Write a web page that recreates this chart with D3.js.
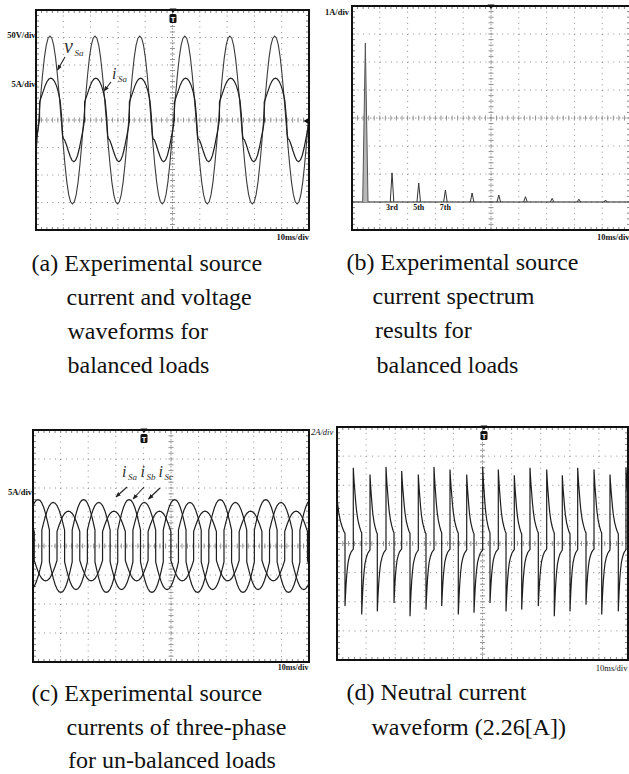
<!DOCTYPE html>
<html><head><meta charset="utf-8">
<script src="https://cdn.jsdelivr.net/npm/d3@7"></script>
<style>
html,body{margin:0;padding:0;background:#fff;}
svg{display:block;}
</style></head><body>
<svg id="chart" width="629" height="774"></svg>
<script>
// ================= DATA =================
// common: oscilloscope screen, 10 x-divisions (10 ms/div), 8 y-divisions
const timeDomainMs = [0, 100];
const divDomain = [-4, 4];
// one half-cycle lobe shape (fraction of lobe height) at these phase angles
const lobeDeg   = [0, 15, 30, 45, 60, 75, 90, 105, 120, 135, 150, 165, 180];
const lobeShape = [0, 0.28, 0.53, 0.74, 0.89, 0.975, 1, 0.975, 0.89, 0.74, 0.53, 0.28, 0];

// (a) source voltage v_Sa (50V/div) and current i_Sa (5A/div)
const periodA_ms = 16.47;
const vSaCycleStartsMs = [-15.5, 1.0, 17.5, 33.9, 50.4, 66.9, 83.3, 99.8];
const vSaPeakDiv = 3.05;
const iSaCycleStartsMs = [-15.2, 1.3, 17.8, 34.2, 50.7, 67.2, 83.6];
// one measured cycle of i_Sa (phase in degrees from the rising step, value in div)
const iSaCycleDeg = [0, 0, 15, 30, 45, 60, 75, 90, 105, 120, 135, 150, 165, 175, 180, 185, 190, 200, 215, 230, 245, 260, 275, 290, 305, 320, 335, 350, 360];
const iSaCycleDiv = [0, 0.65, 0.85, 1.05, 1.25, 1.40, 1.49, 1.52, 1.49, 1.40, 1.25, 1.02, 0.70, 0.20, -0.15, -0.55, -0.68, -0.72, -0.90, -1.12, -1.32, -1.47, -1.52, -1.45, -1.28, -1.00, -0.65, -0.30, 0];

// (b) source current spectrum (1A/div)
const spectrumDomainHz = [0, 1250];
const ampDomainA = [-1, 7];
const harmonicFreqHz = [60, 180, 300, 420, 540, 660, 780, 900, 1020, 1140];
const harmonicAmpA   = [5.68, 1.04, 0.68, 0.43, 0.32, 0.25, 0.19, 0.13, 0.10, 0.07];
const harmonicTextLabels = ["3rd", "5th", "7th"];
const harmonicTextFreqHz = [180, 300, 420];

// (c) three-phase source currents, unbalanced loads (5A/div)
const periodC_ms = 16.5;
const iSaCStartsMs = [-18.8, -2.3, 14.2, 30.7, 47.2, 63.7, 80.2, 96.7];
const iSbCStartsMs = [-13.3, 3.2, 19.7, 36.2, 52.7, 69.2, 85.7];
const iScCStartsMs = [-7.8, 8.7, 25.2, 41.7, 58.2, 74.7, 91.2];
const phaseStepDiv = [0.55, 0.55, 0.50];
const phaseLobeDiv = [1.05, 0.95, 0.70];

// (d) neutral current (2A/div): jump instants and spike heights
const posJumpMs  = [-0.8, 5.60, 11.34, 16.84, 22.23, 27.94, 33.33, 38.83, 44.57, 50.07, 55.43, 60.93, 66.32, 72.06, 77.42, 82.71, 88.32, 93.81, 99.31];
const posPeakDiv = [2.50, 2.60, 2.37, 2.63, 2.49, 2.37, 2.63, 2.54, 2.37, 2.63, 2.54, 2.34, 2.60, 2.54, 2.34, 2.60, 2.54, 2.37, 2.60];
const negJumpMs  = [2.75, 8.49, 13.85, 19.59, 25.09, 30.58, 35.98, 41.68, 47.08, 52.58, 58.08, 63.47, 69.18, 74.67, 80.07, 85.57, 90.96, 96.67, 102.1];
const negTroughDiv = [-2.15, -2.44, -2.33, -2.04, -2.50, -2.27, -2.15, -2.44, -2.38, -2.04, -2.33, -2.27, -2.15, -2.50, -2.33, -2.10, -2.44, -2.33, -2.2];
const decayFrac   = [0, 0.05, 0.12, 0.2, 0.3, 0.4, 0.55, 0.72, 0.88, 1];
const posDecayRatio = [1, 0.9, 0.78, 0.67, 0.53, 0.42, 0.31, 0.23, 0.17, 0.14];
const negDecayRatio = [1, 0.85, 0.68, 0.52, 0.38, 0.28, 0.2, 0.14, 0.11, 0.09];

// captions
const captionA = ["(a) Experimental source", "current and voltage", "waveforms for", "balanced loads"];
const captionB = ["(b) Experimental source", "current spectrum", "results for", "balanced loads"];
const captionC = ["(c) Experimental source", "currents of three-phase", "for un-balanced loads"];
const captionD = ["(d) Neutral current", "waveform (2.26[A])"];

// ================= DRAWING =================
const serif = "'Liberation Serif','Times New Roman',serif";
const svg = d3.select("#chart");
const defs = svg.append("defs");
defs.append("marker").attr("id", "arr").attr("viewBox", "0 0 10 10").attr("refX", 9).attr("refY", 5)
  .attr("markerWidth", 5).attr("markerHeight", 5).attr("orient", "auto")
  .append("path").attr("d", "M0,1L10,5L0,9Z").attr("fill", "#222");

let clipId = 0;
function scope(f) {
  const g = svg.append("g");
  const dx = (f.x1 - f.x0) / 10, dy = (f.y1 - f.y0) / 8;
  const gx = d3.scaleLinear().domain([0, 10]).range([f.x0, f.x1]);
  const gy = d3.scaleLinear().domain([-4, 4]).range([f.y1, f.y0]);
  d3.range(1, 10).filter(i => i !== 5).forEach(i => {
    g.append("line").attr("x1", gx(i)).attr("x2", gx(i)).attr("y1", f.y0).attr("y2", f.y1)
      .attr("stroke", "#8c8c8c").attr("stroke-width", 1).attr("stroke-dasharray", `1 ${dy / 5 - 1}`);
  });
  d3.range(-3, 4).filter(j => j !== 0).forEach(j => {
    g.append("line").attr("y1", gy(j)).attr("y2", gy(j)).attr("x1", f.x0).attr("x2", f.x1)
      .attr("stroke", "#8c8c8c").attr("stroke-width", 1).attr("stroke-dasharray", `1 ${dx / 5 - 1}`);
  });
  g.append("line").attr("x1", gx(5)).attr("x2", gx(5)).attr("y1", f.y0).attr("y2", f.y1)
    .attr("stroke", "#9a9a9a").attr("stroke-width", 1).attr("stroke-dasharray", "1.5 1.5");
  g.append("line").attr("y1", gy(0)).attr("y2", gy(0)).attr("x1", f.x0).attr("x2", f.x1)
    .attr("stroke", "#9a9a9a").attr("stroke-width", 1).attr("stroke-dasharray", "1.5 1.5");
  d3.range(0, 50.5).forEach(k => {
    const xx = gx(k / 5);
    g.append("line").attr("x1", xx).attr("x2", xx).attr("y1", gy(0) - 2.5).attr("y2", gy(0) + 2.5).attr("stroke", "#888").attr("stroke-width", 0.9);
    g.append("line").attr("x1", xx).attr("x2", xx).attr("y1", f.y0).attr("y2", f.y0 + 3).attr("stroke", "#777").attr("stroke-width", 0.9);
    g.append("line").attr("x1", xx).attr("x2", xx).attr("y1", f.y1 - 3).attr("y2", f.y1).attr("stroke", "#777").attr("stroke-width", 0.9);
  });
  d3.range(0, 40.5).forEach(k => {
    const yy = gy(-4 + k / 5);
    g.append("line").attr("y1", yy).attr("y2", yy).attr("x1", gx(5) - 2.5).attr("x2", gx(5) + 2.5).attr("stroke", "#888").attr("stroke-width", 0.9);
    g.append("line").attr("y1", yy).attr("y2", yy).attr("x1", f.x0).attr("x2", f.x0 + 3).attr("stroke", "#777").attr("stroke-width", 0.9);
    g.append("line").attr("y1", yy).attr("y2", yy).attr("x1", f.x1 - 3).attr("x2", f.x1).attr("stroke", "#777").attr("stroke-width", 0.9);
  });
  const id = "clip" + (clipId++);
  defs.append("clipPath").attr("id", id).append("rect")
    .attr("x", f.x0).attr("y", f.y0).attr("width", f.x1 - f.x0).attr("height", f.y1 - f.y0);
  const traces = g.append("g").attr("clip-path", `url(#${id})`);
  const frame = () => g.append("rect").attr("x", f.x0).attr("y", f.y0).attr("width", f.x1 - f.x0).attr("height", f.y1 - f.y0)
    .attr("fill", "none").attr("stroke", "#111").attr("stroke-width", 2);
  return { g, traces, frame };
}

function trigger(x, yTop, box) {
  svg.append("path").attr("d", `M${x - 3.5},${yTop - 1.5}L${x + 3.5},${yTop - 1.5}L${x},${yTop + 3}Z`).attr("fill", "#111");
  if (box) {
    svg.append("rect").attr("x", x - 3.5).attr("y", yTop + 4).attr("width", 7).attr("height", 9).attr("rx", 1.5).attr("fill", "#111");
    svg.append("text").attr("x", x).attr("y", yTop + 11.5).attr("text-anchor", "middle").attr("font-size", 7.5)
      .attr("font-weight", "bold").attr("fill", "#fff").attr("font-family", "'Liberation Sans',sans-serif").text("T");
  }
}

function smallLabel(x, y, txt, anchor, opts = {}) {
  svg.append("text").attr("x", x).attr("y", y).attr("text-anchor", anchor || "start")
    .attr("font-family", serif).attr("font-size", opts.size || 8.5).attr("font-weight", opts.weight || "bold")
    .attr("font-style", opts.style || "normal").attr("fill", "#111").text(txt);
}

function subLabel(x, y, main, sub, mainSize, subSize) {
  const t = svg.append("text").attr("x", x).attr("y", y).attr("font-family", serif).attr("font-style", "italic").attr("fill", "#333");
  t.append("tspan").attr("font-size", mainSize).text(main);
  t.append("tspan").attr("font-size", subSize).attr("dx", 1.5).attr("dy", 3).text(sub);
}

function arrow(x1, y1, x2, y2) {
  svg.append("line").attr("x1", x1).attr("y1", y1).attr("x2", x2).attr("y2", y2)
    .attr("stroke", "#222").attr("stroke-width", 1.1).attr("marker-end", "url(#arr)");
}

function caption(lines, xs, ys) {
  lines.forEach((s, i) => svg.append("text").attr("x", xs[i]).attr("y", ys[i])
    .attr("font-family", serif).attr("font-size", 24).attr("fill", "#111").text(s));
}

// periodic wave built from cycle starts: +(step+lobe) half, then -(step+lobe) half
function buildWave(starts, period, step, lobe) {
  const pts = [];
  starts.forEach(s => {
    lobeDeg.forEach((deg, k) => pts.push([s + deg / 360 * period, step + lobe * lobeShape[k]]));
    lobeDeg.forEach((deg, k) => pts.push([s + (180 + deg) / 360 * period, -(step + lobe * lobeShape[k])]));
  });
  return pts;
}
// periodic wave from one measured cycle
function buildFromCycle(starts, period, degs, vals) {
  const pts = [];
  starts.forEach(s => degs.forEach((deg, k) => pts.push([s + deg / 360 * period, vals[k]])));
  return pts;
}

// ---------- (a) ----------
{
  const F = { x0: 36, y0: 10, x1: 309, y1: 230 };
  const s = scope(F);
  const x = d3.scaleLinear().domain(timeDomainMs).range([F.x0, F.x1]);
  const y = d3.scaleLinear().domain(divDomain).range([F.y1, F.y0]);
  const line = d3.line().x(d => x(d[0])).y(d => y(d[1]));
  s.traces.append("path").datum(buildWave(vSaCycleStartsMs, periodA_ms, 0, vSaPeakDiv))
    .attr("d", line).attr("fill", "none").attr("stroke", "#3a3a3a").attr("stroke-width", 1.1);
  s.traces.append("path").datum(buildFromCycle(iSaCycleStartsMs, periodA_ms, iSaCycleDeg, iSaCycleDiv))
    .attr("d", line).attr("fill", "none").attr("stroke", "#1e1e1e").attr("stroke-width", 1.2);
  s.frame();
  trigger(173, F.y0, true);
  svg.append("path").attr("d", `M303.5,${y(0) + 1}L309.5,${y(0) - 2.5}L309.5,${y(0) + 4.5}Z`).attr("fill", "#111");
  smallLabel(35.5, 38, "50V/div", "end");
  smallLabel(35.5, 87, "5A/div", "end");
  smallLabel(309, 240, "10ms/div", "end");
  subLabel(64, 53, "v", "Sa", 20, 9);
  arrow(65, 57, 57.5, 70);
  subLabel(112, 79, "i", "Sa", 16, 9);
  arrow(111, 82, 104, 91);
}

// ---------- (b) ----------
{
  const F = { x0: 352, y0: 6, x1: 630, y1: 230 };
  const s = scope(F);
  const x = d3.scaleLinear().domain(spectrumDomainHz).range([F.x0, F.x1]);
  const y = d3.scaleLinear().domain(ampDomainA).range([F.y1, F.y0]);
  s.traces.append("line").attr("x1", F.x0).attr("x2", F.x1).attr("y1", y(0)).attr("y2", y(0))
    .attr("stroke", "#222").attr("stroke-width", 1.1);
  harmonicFreqHz.forEach((hz, i) => {
    const w = i === 0 ? 12 : 8;
    s.traces.append("path")
      .attr("d", `M${x(hz - w)},${y(0)}L${x(hz)},${y(harmonicAmpA[i])}L${x(hz + w)},${y(0)}`)
      .attr("fill", i === 0 ? "#b8b8b8" : "none").attr("stroke", i === 0 ? "#555" : "#333").attr("stroke-width", 1);
  });
  s.frame();
  trigger(491, F.y0, false);
  harmonicTextLabels.forEach((t, i) => smallLabel(x(harmonicTextFreqHz[i]), 209.5, t, "middle", { size: 8 }));
  smallLabel(349, 15, "1A/div", "end");
  smallLabel(629.5, 240, "10ms/div", "end");
}

// ---------- (c) ----------
{
  const F = { x0: 33, y0: 430, x1: 309, y1: 662 };
  const s = scope(F);
  const x = d3.scaleLinear().domain(timeDomainMs).range([F.x0, F.x1]);
  const y = d3.scaleLinear().domain(divDomain).range([F.y1, F.y0]);
  const line = d3.line().x(d => x(d[0])).y(d => y(d[1]));
  [iSaCStartsMs, iSbCStartsMs, iScCStartsMs].forEach((st, p) => {
    s.traces.append("path").datum(buildWave(st, periodC_ms, phaseStepDiv[p], phaseLobeDiv[p]))
      .attr("d", line).attr("fill", "none").attr("stroke", "#1e1e1e").attr("stroke-width", 1.2);
  });
  s.frame();
  trigger(144, F.y0, true);
  smallLabel(32, 495, "5A/div", "end");
  smallLabel(308.5, 670, "10ms/div", "end", { size: 8 });
  subLabel(122, 477, "i", "Sa", 16, 9);
  subLabel(140.5, 477, "i", "Sb", 16, 9);
  subLabel(158.5, 477, "i", "Sc", 16, 9);
  arrow(127, 487, 116, 497);
  arrow(144, 487, 133, 499);
  arrow(160, 488, 148.5, 499);
}

// ---------- (d) ----------
{
  const F = { x0: 337, y0: 427, x1: 628, y1: 660 };
  const s = scope(F);
  const x = d3.scaleLinear().domain(timeDomainMs).range([F.x0, F.x1]);
  const y = d3.scaleLinear().domain(divDomain).range([F.y1, F.y0]);
  const line = d3.line().x(d => x(d[0])).y(d => y(d[1]));
  const events = [];
  posJumpMs.forEach((t, i) => events.push({ t, amp: posPeakDiv[i], ratio: posDecayRatio }));
  negJumpMs.forEach((t, i) => events.push({ t, amp: negTroughDiv[i], ratio: negDecayRatio }));
  events.sort((a, b) => a.t - b.t);
  const pts = [];
  events.forEach((e, i) => {
    if (i === events.length - 1) return;
    const t1 = events[i + 1].t;
    decayFrac.forEach((f, k) => pts.push([e.t + f * (t1 - e.t), e.amp * e.ratio[k]]));
  });
  s.traces.append("path").datum(pts).attr("d", line).attr("fill", "none")
    .attr("stroke", "#1e1e1e").attr("stroke-width", 1.2);
  s.frame();
  trigger(484, F.y0, true);
  smallLabel(311, 435, "2A/div", "start", { weight: "normal", style: "italic", size: 8.5 });
  smallLabel(627.5, 671, "10ms/div", "end", { weight: "normal", size: 8.5 });
}

// ---------- captions ----------
caption(captionA, [31.5, 66.5, 67.5, 67.5], [271, 305, 339, 373]);
caption(captionB, [346.5, 372.5, 375, 376.5], [270, 304, 338, 373]);
caption(captionC, [31.5, 66.5, 68], [701, 735, 768]);
caption(captionD, [346.5, 371.5], [700, 735]);
</script>
</body></html>
